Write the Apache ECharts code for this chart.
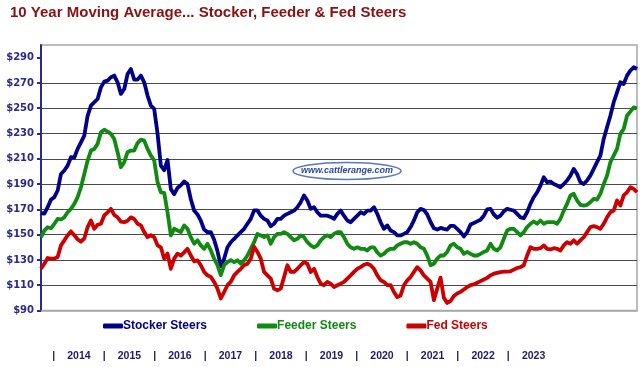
<!DOCTYPE html>
<html><head><meta charset="utf-8">
<script src="https://cdn.jsdelivr.net/npm/echarts@6/dist/echarts.min.js"></script>
<style>html,body{margin:0;padding:0;background:#fff}#c{width:642px;height:367px}</style>
</head><body><div id="c"></div>
<script>
const titleText = '10 Year Moving Average... Stocker, Feeder & Fed Steers';
const seriesNames = ['Stocker Steers', 'Feeder Steers', 'Fed Steers'];
const stocker = [
167,166.6,171.7,177.7,179.6,184.9,198,200.7,204.6,211.2,211,217.8,223,228.3,244,252,254.7,257.3,266.5,271,271.8,274.5,275.8,270.5,261.3,265.2,277,281,272.6,272.6,275.8,270.5,260,252,249.4,230,
204.6,201,209,186,182,187,189,192,190,178,169,166,161,154,152,152,146,137,125,131,140,144,146.6,149.4,152,154.6,158.6,162.5,169.2,169.2,165,162.5,161.2,156.7,158.6,162.5,
162.5,165,166.4,167.7,169,171.7,175.6,181,177,170.4,171.7,167.7,165,165,165,164,162.5,166.4,169,165,161.2,159.8,162.5,165,167.7,166.4,169,169,171.7,166.4,159.8,154.6,157.3,153.3,152,149.4,
149.4,150.6,152,156,161.2,167.7,170.4,169.5,166,160,155,154,155.3,154.6,154,157,157,154.6,152,148.6,152,158,159.2,160.5,161.8,165,170,170.4,166,163.4,165,168.4,170.4,169.7,169,166.4,
163.7,163,167.7,174.3,179.6,183.5,188.8,195.4,191.5,192,190,188.8,187.5,190,192.8,196.7,202,198,191.5,190,192.8,196.7,202,207.3,212.5,225.7,235,244,254.7,262.6,270.5,269.2,275.8,279.7,282.4,281
];
const feeder = [
148,153.2,155.9,155,158.5,162.4,162,163.7,167.7,170.4,174.3,179.6,187.5,198,208.6,216.5,217.8,221.8,231,233,231.5,229.7,225.7,215.2,203.3,207.3,215.2,216.5,216.5,222.5,225.2,224.4,217.8,212.5,208.6,191.5,
183.5,183,167.7,149.4,154.6,153.3,152,157.3,154.6,148,142.8,145.5,141.5,138.8,142.8,137.5,131,125.8,118,125.8,128.3,129.8,128.3,129.7,127,129.7,133.5,138.8,144,150.6,149.4,148,149.4,142.8,148,150.6,
150.6,152,150.6,148,145.5,146.7,149.4,148,144,141.5,140,141.5,145.5,148,149.4,148,150.6,152,152,148,142.8,140,138.8,140,138.8,138.8,137.5,140,140,136,133.5,134.8,137.5,138.8,138.8,141.5,
142.8,144,144,142.8,144,142.8,140,138.8,133.5,125.8,127,131,133.5,133.5,136.3,141.5,142.8,140,138.8,134.8,136.3,134.8,133.5,133.5,134.8,136.3,137.5,142.8,138.8,137.5,140,146.7,153.3,154.6,154.6,152,
149.4,152,156,158.6,160.4,158.6,161.2,158.6,159.9,159.9,159.9,158.6,162.5,169,174.3,181,182.3,177,173.6,173,173.6,175.6,178.3,177.7,182.3,190,196.7,207.3,212.5,217.8,229.7,233.6,244,247.3,250.7,250
];
const fed = [
123,127,131.5,131,131,132.3,141.5,145.5,149.5,152.6,149.5,146.3,144.4,147,156,161.2,154.7,157.8,158.6,165.2,167.7,170.4,165.6,163.7,160.3,159.8,161,163.7,162.4,158.6,157.3,152,148,149.5,148,141.5,
140,131,135,123,131,135,133.5,136,138.8,133.5,128.8,129.7,125.8,120.5,117.8,116.6,112.6,107.3,99.5,104.6,110,112.6,117.8,120.5,123,125.8,127,131,140.4,136.3,131,120.5,117.8,115.2,107.3,106,
107.3,116.5,125.8,120.5,120.5,123,125.8,128.3,127,120.5,123,116.5,111.2,110,112.6,111.2,108.6,110,111.2,112.6,115.2,117.8,120.5,123,124.3,126.2,127,125.8,123,117.8,113.9,112.6,110,110,104.6,100.6,
101.9,110,113.9,116.5,120.5,124.3,121.7,117.8,115.2,112.6,98.2,107.3,116,100,96,97.5,101.5,103.4,104.7,106.6,108.6,110,110.6,111.9,113.2,114.5,115.8,117.8,119.1,119.8,120.4,120.7,120.7,121,122.3,123.6,
124.3,125.8,133.5,140,138.8,138.8,139.3,141.5,138.8,138.3,139.3,138.8,137.5,141.5,144,142.8,145.5,142.8,145.5,148,152,156,156.7,156,154.6,158.6,163.7,167.7,169,177,173,181,183.5,187.5,186.2,183.5
];
const yTicks = [90,110,130,150,170,190,210,230,250,270,290];
const yearLabels = ['|','2014','|','2015','|','2016','|','2017','|','2018','|','2019','|','2020','|','2021','|','2022','|','2023','','',''];

const colors = ['#000088', '#118a11', '#cc0000'];
const navy = '#2a2a8c';
const weeks = stocker.map((_, i) => i);

const chart = echarts.init(document.getElementById('c'), null, {renderer: 'canvas'});
chart.setOption({
  backgroundColor: '#fff',
  animation: false,
  title: {
    text: titleText, left: 5, top: 0,
    textStyle: {fontFamily: 'Liberation Sans', fontWeight: 'bold', fontSize: 15, color: '#8b1010'}
  },
  legend: {
    left: 98, top: 315, itemGap: 50, itemWidth: 20, itemHeight: 5, icon: 'roundRect',
    textStyle: {fontFamily: 'Liberation Sans', fontWeight: 'bold', fontSize: 12, padding: [0,0,0,-5]},
    data: seriesNames.map((n, i) => ({name: n, textStyle: {color: colors[i]}}))
  },
  grid: [
    {left: 41, right: 5, top: 45, bottom: 56.5, show: true, borderColor: '#a8a8a8', borderWidth: 1.5, backgroundColor: '#fff'},
    {left: 41, right: 20, top: 330, bottom: 19}
  ],
  xAxis: [
    {type: 'category', gridIndex: 0, data: weeks, boundaryGap: false,
     axisLine: {show: true, lineStyle: {color: '#a8a8a8', width: 1.5}},
     axisTick: {show: false}, axisLabel: {show: false}, splitLine: {show: false}},
    {type: 'category', gridIndex: 1, data: yearLabels, boundaryGap: true,
     axisLine: {show: false}, axisTick: {show: false}, splitLine: {show: false},
     axisLabel: {interval: 0, margin: 3, fontFamily: 'Liberation Sans', fontWeight: 'bold', fontSize: 10.5, color: '#1c1c6c'}}
  ],
  yAxis: [
    {type: 'value', gridIndex: 0, min: 90, max: 300, interval: 20,
     axisLine: {show: true, lineStyle: {color: navy, width: 2}},
     axisTick: {show: true, length: 4, inside: false, customValues: yTicks, lineStyle: {color: navy, width: 2}},
     axisLabel: {customValues: yTicks, margin: 7, formatter: v => '$' + v,
       fontFamily: 'DejaVu Sans', fontWeight: 'bold', fontSize: 10, color: navy},
     splitLine: {show: true, showMinLine: false, showMaxLine: false, lineStyle: {color: '#4a4a4a', width: 1}}},
    {type: 'value', gridIndex: 1, show: false}
  ],
  graphic: [
    {type: 'ellipse', z: 50, shape: {cx: 347, cy: 171, rx: 54, ry: 8.5},
     style: {fill: '#fff', stroke: '#5a76c6', lineWidth: 1.5}},
    {type: 'text', z: 51, x: 347, y: 171,
     style: {text: 'www.cattlerange.com', font: 'italic bold 9px "Liberation Sans"', fill: '#2b47a3', align: 'center', verticalAlign: 'middle'}}
  ],
  series: [
    {name: seriesNames[0], type: 'line', data: stocker, xAxisIndex: 0, yAxisIndex: 0, symbol: 'none', color: colors[0], lineStyle: {width: 3.8, join: 'round'}, z: 3},
    {name: seriesNames[1], type: 'line', data: feeder, xAxisIndex: 0, yAxisIndex: 0, symbol: 'none', color: colors[1], lineStyle: {width: 3.8, join: 'round'}, z: 3},
    {name: seriesNames[2], type: 'line', data: fed, xAxisIndex: 0, yAxisIndex: 0, symbol: 'none', color: colors[2], lineStyle: {width: 3.8, join: 'round'}, z: 3}
  ]
});
</script>
</body></html>
